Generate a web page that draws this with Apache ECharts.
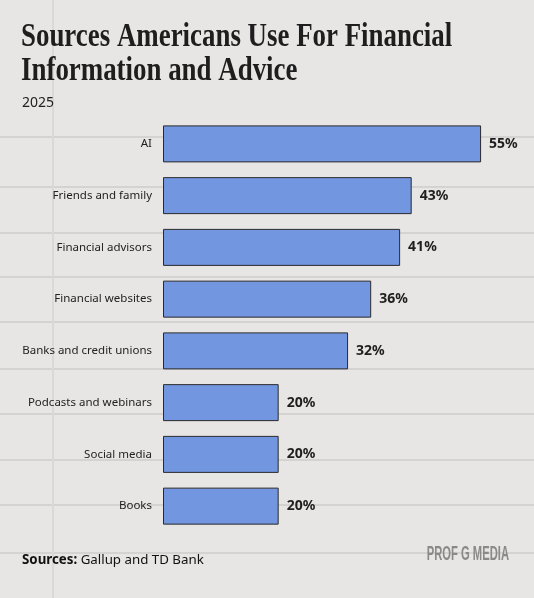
<!DOCTYPE html>
<html><head><meta charset="utf-8">
<script src="https://cdn.jsdelivr.net/npm/echarts@6/dist/echarts.min.js"></script>
<style>html,body{margin:0;padding:0;background:#e8e6e5}#c{width:534px;height:598px}</style>
</head><body><div id="c"></div>
<script>
const categories = ["AI","Friends and family","Financial advisors","Financial websites","Banks and credit unions","Podcasts and webinars","Social media","Books"];
const values = [55,43,41,36,32,20,20,20];
const titleLines = ["Sources Americans Use For Financial","Information and Advice"];
const subtitleText = "2025";

const chart = echarts.init(document.getElementById('c'), null, {renderer:'canvas'});
const ruleYs = [137,187,233,277,322,369,414,460,505,553];
const deco = ruleYs.map(y => ({type:'line', silent:true, z:-10, shape:{x1:0,y1:y,x2:534,y2:y}, style:{stroke:'#d5d3d2', lineWidth:2}}));
deco.push({type:'line', silent:true, z:-10, shape:{x1:53,y1:0,x2:53,y2:598}, style:{stroke:'#dbd9d8', lineWidth:2}});

const titleEls = titleLines.map((t,i) => ({type:'text', x:21, y:21 + i*34, scaleX:0.815, z:5,
  style:{text:t, fontFamily:'Liberation Serif', fontWeight:'bold', fontSize:33, fill:'#1e1e1e', verticalAlign:'top', align:'left'}}));

chart.setOption({
  backgroundColor:'#e8e6e5',
  animation:false,
  title:[
    {text:subtitleText, left:17, top:91, textStyle:{fontFamily:'Noto Sans', fontWeight:'normal', fontSize:14, color:'#222'}}
  ],
  graphic: deco.concat(titleEls).concat([
    {type:'text', x:22, y:554, style:{text:'{b|Sources:} Gallup and TD Bank', rich:{b:{fontWeight:'bold', fontFamily:'Noto Sans', fontSize:13.3, fill:'#111'}}, fontFamily:'Noto Sans', fontSize:13.3, fill:'#111'}},
    {type:'text', x:509, y:545, scaleX:0.575, style:{text:'PROF G MEDIA', fontFamily:'Liberation Sans', fontWeight:'bold', fontSize:19.5, fill:'#8a8888', align:'right', verticalAlign:'top'}}
  ]),
  grid:{left:163, right:24, top:118, bottom:66, containLabel:false},
  xAxis:{type:'value', min:0, max:60, show:false},
  yAxis:{type:'category', data:categories, inverse:true,
    axisLine:{show:false}, axisTick:{show:false},
    axisLabel:{margin:11, fontFamily:'Noto Sans', fontSize:11.5, color:'#222'}},
  series:[{type:'bar', data:values, barWidth:37,
    itemStyle:{color:'#7396e0', borderColor:'#2a2a2a', borderWidth:1},
    label:{show:true, position:'right', distance:8, formatter:'{c}%', fontFamily:'Noto Sans', fontWeight:'bold', fontSize:14, color:'#1e1e1e'}
  }]
});
</script></body></html>
